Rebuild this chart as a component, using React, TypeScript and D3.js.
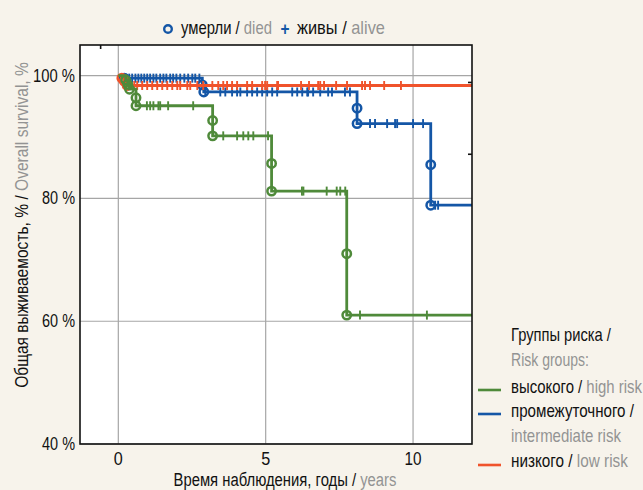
import React, { useLayoutEffect, useRef, useState } from "react";
import * as d3 from "d3";

// y-axis / x-axis ticks
const yTicks = [40, 60, 80, 100];
const xTicks = [0, 5, 10];
const frameTicksX = [-0.6];
const frameTicksY = [98.9, 87.2];

// deaths: [time in years, survival % after the death]
const lowDeaths: [number, number][] = [
  [0.12, 99.6], [0.2, 99.1], [0.3, 98.4],
];
const lowCensored = [
  0.41, 0.54, 0.64, 0.81, 0.98, 1.15, 1.32, 1.49, 1.66, 1.83, 2.0, 2.1, 2.34,
  2.44, 2.68, 2.88, 3.19, 3.39, 3.56, 3.69, 3.86, 4.03, 4.37, 4.54, 4.88, 4.98,
  5.05, 5.39, 5.42, 6.2, 6.47, 6.78, 6.85, 6.98, 7.39, 7.76, 8.27, 8.37, 8.54,
  9.02, 9.59,
];

const midDeaths: [number, number][] = [
  [0.2, 99.6], [2.85, 98.5], [2.9, 97.35], [8.1, 94.7], [8.1, 92.2],
  [10.6, 85.5], [10.6, 78.9],
];
const midCensored = [
  0.27, 0.37, 0.47, 0.58, 0.68, 0.78, 0.88, 0.98, 1.08, 1.19, 1.29, 1.42, 1.53,
  1.63, 1.76, 1.86, 1.97, 2.1, 2.24, 2.37, 2.51, 2.61, 2.75, 2.95, 3.46, 3.63,
  3.86, 4.03, 4.14, 4.37, 4.54, 4.71, 4.88, 5.05, 5.22, 5.39, 5.9, 6.07, 6.24,
  6.41, 6.44, 6.61, 6.85, 7.12, 7.25, 7.69, 7.86, 8.54, 8.71, 9.12, 9.39, 9.46,
  10.0, 10.34, 10.75, 10.85,
];

const highDeaths: [number, number][] = [
  [0.25, 99.3], [0.32, 98.6], [0.38, 97.8], [0.6, 96.4], [0.6, 95.1],
  [3.2, 92.7], [3.2, 90.2], [5.2, 85.7], [5.2, 81.2], [7.75, 71], [7.75, 61],
];
const highCensored = [
  0.97, 1.08, 1.19, 1.36, 1.42, 1.69, 2.54, 3.56, 4.03, 4.24, 4.41, 4.58, 5.08,
  6.23, 6.28, 7.07, 7.41, 7.53, 7.7, 8.2, 10.47,
];

const groups = [
  { key: "mid", color: "#1456a6", deaths: midDeaths, censored: midCensored },
  { key: "low", color: "#f0532b", deaths: lowDeaths, censored: lowCensored },
  { key: "high", color: "#4f8a3a", deaths: highDeaths, censored: highCensored },
];

const W = 643;
const H = 490;
const tMax = 12;
const font = "'Liberation Sans', Arial, sans-serif";
const gray = "#939393";

// condensed text: measure natural width, then squeeze to the width seen on the reference
function CText({ w, x, y, rotate, children, ...rest }: any) {
  const ref = useRef<SVGTextElement>(null);
  const [s, setS] = useState(1);
  useLayoutEffect(() => {
    if (ref.current) {
      const n = ref.current.getComputedTextLength();
      if (n > 0) setS(w / n);
    }
  }, [w]);
  const tr = `translate(${x},${y})${rotate ? ` rotate(${rotate})` : ""} scale(${s},1)`;
  return (
    <g transform={tr}>
      <text ref={ref} x={0} y={0} {...rest}>
        {children}
      </text>
    </g>
  );
}

export default function App() {
  const x = d3.scaleLinear().domain([-1.3, tMax]).range([80, 472]);
  const y = d3.scaleLinear().domain([40, 105]).range([444, 45]);

  const line = d3
    .line<[number, number]>()
    .x((d) => x(d[0]))
    .y((d) => y(d[1]))
    .curve(d3.curveStepAfter);

  // survival at a given time, from the death list
  const survAt = (deaths: [number, number][], t: number) => {
    let s = 100;
    deaths.forEach((d) => {
      if (d[0] <= t) s = d[1];
    });
    return s;
  };

  const [x0, x1] = x.range();
  const [y1, y0] = y.range();

  return (
    <svg
      width={W}
      height={H}
      style={{ position: "absolute", left: 0, top: 0, fontFamily: font }}
    >
      <rect width={W} height={H} fill="#f7f3eb" />
      <defs>
        <clipPath id="plot">
          <rect x={x0} y={y0} width={x1 - x0} height={y1 - y0} />
        </clipPath>
      </defs>
      <rect x={x0} y={y0} width={x1 - x0} height={y1 - y0} fill="#fff" />

      {/* grid */}
      {xTicks.map((t) => (
        <line key={"gx" + t} x1={x(t)} x2={x(t)} y1={y0} y2={y1} stroke="#a6a6a6" strokeWidth={1.2} />
      ))}
      {yTicks.map((t) => (
        <line key={"gy" + t} x1={x0} x2={x1} y1={y(t)} y2={y(t)} stroke="#a6a6a6" strokeWidth={1.2} />
      ))}

      {/* curves */}
      <g clipPath="url(#plot)">
        {groups.map((g) => {
          const pts: [number, number][] = [[0, 100], ...g.deaths];
          pts.push([tMax + 1, g.deaths[g.deaths.length - 1][1]]);
          return (
            <g key={g.key}>
              <path d={line(pts) || ""} fill="none" stroke={g.color} strokeWidth={2.8} />
              {g.censored.map((t, i) => (
                <line
                  key={i}
                  x1={x(t)}
                  x2={x(t)}
                  y1={y(survAt(g.deaths, t)) - 4.5}
                  y2={y(survAt(g.deaths, t)) + 4.5}
                  stroke={g.color}
                  strokeWidth={1.9}
                />
              ))}
              {g.deaths.map((d, i) => (
                <circle key={i} cx={x(d[0])} cy={y(d[1])} r={4.2} fill="none" stroke={g.color} strokeWidth={2.5} />
              ))}
            </g>
          );
        })}
      </g>

      {/* frame */}
      <rect x={x0} y={y0} width={x1 - x0} height={y1 - y0} fill="none" stroke="#111" strokeWidth={1.6} />
      {frameTicksX.map((t) => (
        <line key={"fx" + t} x1={x(t)} x2={x(t)} y1={y0} y2={y0 + 4} stroke="#111" strokeWidth={1.6} />
      ))}
      {frameTicksY.map((t) => (
        <line key={"fy" + t} x1={x1 - 4} x2={x1} y1={y(t)} y2={y(t)} stroke="#111" strokeWidth={1.6} />
      ))}

      {/* tick labels */}
      {yTicks.map((t) => (
        <CText key={"ly" + t} w={t === 100 ? 42 : 33} x={75} y={y(t) + 6} textAnchor="end" fontSize={19} fill="#111">
          {t} %
        </CText>
      ))}
      {xTicks.map((t) => (
        <CText key={"lx" + t} w={t === 10 ? 17 : 9} x={x(t)} y={465} textAnchor="middle" fontSize={19} fill="#111">
          {t}
        </CText>
      ))}

      {/* axis titles */}
      <CText w={223} x={285} y={486} textAnchor="middle" fontSize={18} fill="#111">
        Время наблюдения, годы / <tspan fill={gray}>years</tspan>
      </CText>
      <CText w={326} x={28} y={225} rotate={-90} textAnchor="middle" fontSize={18} fill="#111">
        Общая выживаемость, % / <tspan fill={gray}>Overall survival, %</tspan>
      </CText>

      {/* top legend */}
      <circle cx={168} cy={29} r={3.8} fill="none" stroke="#1456a6" strokeWidth={2.4} />
      <CText w={91} x={181} y={34} fontSize={18} fill="#111">
        умерли / <tspan fill={gray}>died</tspan>
      </CText>
      <CText w={9} x={285} y={35} fontSize={18} fill="#1456a6" textAnchor="middle" fontWeight="bold">
        +
      </CText>
      <CText w={88} x={297} y={34} fontSize={18} fill="#111">
        живы / <tspan fill={gray}>alive</tspan>
      </CText>

      {/* right legend */}
      <g fontSize={18}>
        <CText w={100} x={511} y={341} fill="#111">Группы риска /</CText>
        <CText w={78} x={511} y={366} fill={gray}>Risk groups:</CText>
        <line x1={478} x2={501} y1={390} y2={390} stroke="#4f8a3a" strokeWidth={2.6} />
        <CText w={131} x={511} y={393} fill="#111">
          высокого / <tspan fill={gray}>high risk</tspan>
        </CText>
        <line x1={478} x2={501} y1={414} y2={414} stroke="#1456a6" strokeWidth={2.6} />
        <CText w={123} x={511} y={417} fill="#111">промежуточного /</CText>
        <CText w={110} x={511} y={442} fill={gray}>intermediate risk</CText>
        <line x1={478} x2={501} y1={465} y2={465} stroke="#f0532b" strokeWidth={2.6} />
        <CText w={117} x={511} y={467} fill="#111">
          низкого / <tspan fill={gray}>low risk</tspan>
        </CText>
      </g>
    </svg>
  );
}
